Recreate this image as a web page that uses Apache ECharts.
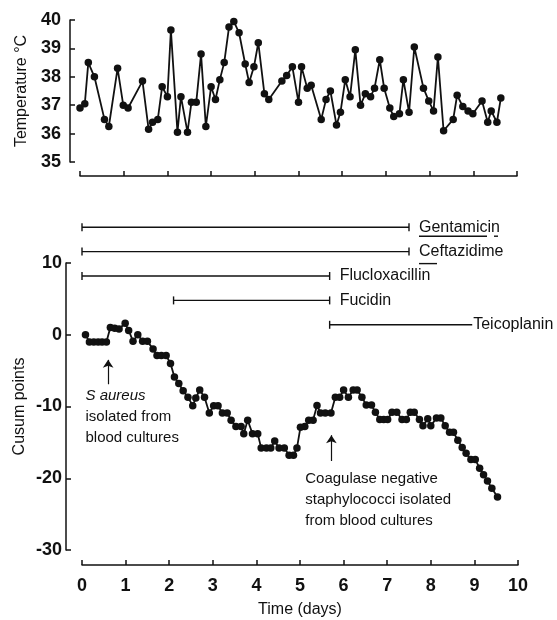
<!DOCTYPE html>
<html>
<head>
<meta charset="utf-8">
<script src="https://cdn.jsdelivr.net/npm/echarts@6/dist/echarts.min.js"></script>
<style>
  html, body { margin: 0; padding: 0; background: #fff; }
  #chart { width: 557px; height: 620px; }
</style>
</head>
<body>
<div id="chart"></div>
<script>
// temperature readings (days, deg C)
var tempDays = [0.0, 0.11, 0.19, 0.33, 0.56, 0.66, 0.86, 0.99, 1.10, 1.43,
  1.57, 1.66, 1.78, 1.88, 2.0, 2.08, 2.23, 2.31, 2.46, 2.55,
  2.66, 2.77, 2.88, 3.0, 3.1, 3.2, 3.3, 3.41, 3.52, 3.64,
  3.78, 3.87, 3.98, 4.08, 4.22, 4.32, 4.62, 4.73, 4.86, 5.0,
  5.07, 5.2, 5.29, 5.52, 5.63, 5.73, 5.87, 5.96, 6.07, 6.18,
  6.3, 6.42, 6.53, 6.65, 6.74, 6.86, 6.96, 7.09, 7.18, 7.31,
  7.4, 7.53, 7.65, 7.86, 7.98, 8.09, 8.19, 8.32, 8.54, 8.63,
  8.76, 8.88, 8.99, 9.2, 9.33, 9.41, 9.54, 9.63];
var temps = [36.9, 37.05, 38.5, 38.0, 36.5, 36.25, 38.3, 37.0, 36.9, 37.85,
  36.15, 36.4, 36.5, 37.65, 37.3, 39.65, 36.05, 37.3, 36.05, 37.1,
  37.1, 38.8, 36.25, 37.65, 37.2, 37.9, 38.5, 39.75, 39.95, 39.55,
  38.45, 37.8, 38.35, 39.2, 37.4, 37.2, 37.85, 38.05, 38.35, 37.1,
  38.35, 37.6, 37.7, 36.5, 37.2, 37.5, 36.3, 36.75, 37.9, 37.3,
  38.95, 37.0, 37.4, 37.3, 37.6, 38.6, 37.6, 36.9, 36.6, 36.7,
  37.9, 36.75, 39.05, 37.6, 37.15, 36.8, 38.7, 36.1, 36.5, 37.35,
  36.95, 36.8, 36.7, 37.15, 36.4, 36.8, 36.4, 37.25];

// cusum points
var cusumDays = [0.08, 0.17, 0.27, 0.37, 0.46, 0.56, 0.65, 0.75, 0.85, 0.99,
  1.07, 1.17, 1.28, 1.39, 1.5, 1.63, 1.72, 1.82, 1.93, 2.03,
  2.12, 2.22, 2.32, 2.43, 2.54, 2.61, 2.7, 2.81, 2.92, 3.02,
  3.12, 3.22, 3.33, 3.42, 3.53, 3.65, 3.71, 3.8, 3.91, 4.03,
  4.11, 4.23, 4.33, 4.42, 4.52, 4.64, 4.75, 4.85, 4.93, 5.01,
  5.11, 5.2, 5.3, 5.39, 5.47, 5.58, 5.71, 5.81, 5.91, 6.0,
  6.11, 6.22, 6.31, 6.42, 6.52, 6.64, 6.73, 6.83, 6.92, 7.01,
  7.11, 7.22, 7.34, 7.44, 7.53, 7.62, 7.74, 7.82, 7.93, 8.0,
  8.13, 8.23, 8.33, 8.43, 8.52, 8.62, 8.72, 8.81, 8.92, 9.02,
  9.12, 9.21, 9.3, 9.4, 9.53];
var cusumVals = [0, -1, -1, -1, -1, -1, 1, 0.9, 0.8, 1.6,
  0.6, -0.9, 0, -0.9, -0.9, -2, -2.9, -2.9, -2.9, -4,
  -5.9, -6.8, -7.8, -8.7, -9.9, -8.8, -7.7, -8.7, -10.9, -9.9,
  -9.9, -10.9, -10.9, -11.9, -12.8, -12.8, -13.8, -11.9, -13.8, -13.8,
  -15.8, -15.8, -15.8, -14.8, -15.8, -15.8, -16.8, -16.8, -15.8, -12.9,
  -12.8, -11.9, -11.9, -9.85, -10.9, -10.9, -10.9, -8.7, -8.7, -7.7,
  -8.7, -7.7, -7.7, -8.7, -9.8, -9.8, -10.8, -11.8, -11.8, -11.8,
  -10.8, -10.8, -11.8, -11.8, -10.8, -10.8, -11.8, -12.7, -11.7, -12.7,
  -11.6, -11.6, -12.7, -13.6, -13.6, -14.7, -15.7, -16.5, -17.4, -17.4,
  -18.6, -19.5, -20.4, -21.4, -22.6];

// antibiotic courses (days)
var drugNames = ['Gentamicin', 'Ceftazidime', 'Flucloxacillin', 'Fucidin', 'Teicoplanin'];
var drugStart = [0, 0, 0, 2.1, 5.68];
var drugStop = [7.5, 7.5, 5.68, 5.68, 8.95];
var drugOngoing = [0, 0, 0, 0, 1];

var xTicks = ['0', '1', '2', '3', '4', '5', '6', '7', '8', '9', '10'];

var chart = echarts.init(document.getElementById('chart'), null, { renderer: 'canvas' });

var font = 'Liberation Sans, Arial, sans-serif';
var ink = '#111';

function axisLine() {
  return { show: true, onZero: false, lineStyle: { color: ink, width: 1.5 } };
}
function ticks() {
  return { show: true, inside: true, length: 5, lineStyle: { color: ink, width: 1.5 } };
}
var tickLabel = { color: ink, fontFamily: font, fontWeight: 'bold', fontSize: 18 };

function zip(a, b) {
  return a.map(function (v, i) { return [v, b[i]]; });
}

var option = {
  animation: false,
  backgroundColor: '#fff',
  textStyle: { fontFamily: font, color: ink },
  grid: [
    { left: 80, right: 40, top: 20, height: 142, outerBoundsMode: 'none' },
    { left: 82, right: 39, top: 263, height: 287, outerBoundsMode: 'none' },
    { left: 82, right: 39, top: 215, height: 122, outerBoundsMode: 'none' }
  ],
  xAxis: [
    {
      gridIndex: 0, type: 'value', min: 0, max: 10, interval: 1, offset: 14,
      axisLine: axisLine(), axisTick: ticks(), axisLabel: { show: false },
      splitLine: { show: false }
    },
    {
      gridIndex: 1, type: 'value', min: 0, max: 10, interval: 1, offset: 15,
      axisLine: axisLine(), axisTick: ticks(),
      axisLabel: Object.assign({ margin: 12, formatter: function (v) { return xTicks[Math.round(v)]; } }, tickLabel),
      splitLine: { show: false },
      name: 'Time (days)', nameLocation: 'middle', nameGap: 37, nameMoveOverlap: false,
      nameTextStyle: { fontSize: 16, color: ink, fontFamily: font }
    },
    { gridIndex: 2, type: 'value', min: 0, max: 10, show: false }
  ],
  yAxis: [
    {
      gridIndex: 0, type: 'value', min: 35, max: 40, interval: 1, offset: 10,
      axisLine: axisLine(), axisTick: ticks(),
      axisLabel: Object.assign({ margin: 9 }, tickLabel),
      splitLine: { show: false },
      name: 'Temperature °C', nameLocation: 'middle', nameGap: 40, nameMoveOverlap: false,
      nameTextStyle: { fontSize: 16, color: ink, fontFamily: font }
    },
    {
      gridIndex: 1, type: 'value', min: -30, max: 10, interval: 10, offset: 16,
      axisLine: axisLine(), axisTick: ticks(),
      axisLabel: Object.assign({ margin: 4 }, tickLabel),
      splitLine: { show: false },
      name: 'Cusum points', nameLocation: 'middle', nameGap: 38, nameMoveOverlap: false,
      nameTextStyle: { fontSize: 16, color: ink, fontFamily: font }
    },
    { gridIndex: 2, type: 'category', data: drugNames, inverse: true, show: false }
  ],
  series: [
    {
      type: 'line', xAxisIndex: 0, yAxisIndex: 0,
      data: zip(tempDays, temps),
      symbol: 'circle', symbolSize: 7.5,
      lineStyle: { color: ink, width: 1.8 },
      itemStyle: { color: ink }
    },
    {
      type: 'line', xAxisIndex: 1, yAxisIndex: 1,
      data: zip(cusumDays, cusumVals),
      symbol: 'circle', symbolSize: 7.5,
      lineStyle: { color: ink, width: 1.8 },
      itemStyle: { color: ink },
      markLine: {
        silent: true,
        symbol: ['none', 'arrow'],
        symbolSize: 8,
        lineStyle: { color: ink, width: 1.2, type: 'solid' },
        label: { show: false },
        data: [
          [{ coord: [0.6, -6.9] }, { coord: [0.6, -3.5] }],
          [{ coord: [5.72, -17.6] }, { coord: [5.72, -14.0] }]
        ]
      },
      markPoint: {
        silent: true,
        symbol: 'circle', symbolSize: 0,
        label: {
          show: true, position: 'right', distance: 0, align: 'left',
          fontSize: 15, lineHeight: 21, color: ink, fontFamily: font,
          rich: { i: { fontStyle: 'italic', fontSize: 15, fontFamily: font, color: ink } }
        },
        data: [
          { coord: [0.08, -11.4], value: 0, label: { formatter: '{i|S aureus}\nisolated from\nblood cultures' } },
          { coord: [5.12, -22.95], value: 0, label: { formatter: 'Coagulase negative\nstaphylococci isolated\nfrom blood cultures' } }
        ]
      }
    },
    {
      type: 'custom', xAxisIndex: 2, yAxisIndex: 2,
      data: drugNames.map(function (n, i) { return [i, drugStart[i], drugStop[i], drugOngoing[i]]; }),
      renderItem: function (params, api) {
        var row = api.value(0);
        var a = api.coord([api.value(1), row]);
        var b = api.coord([api.value(2), row]);
        var ongoing = api.value(3) === 1;
        var st = { stroke: ink, lineWidth: 1.4 };
        var kids = [
          { type: 'line', shape: { x1: a[0], y1: a[1], x2: b[0], y2: b[1] }, style: st },
          { type: 'line', shape: { x1: a[0], y1: a[1] - 4, x2: a[0], y2: a[1] + 4 }, style: st }
        ];
        if (!ongoing) {
          kids.push({ type: 'line', shape: { x1: b[0], y1: b[1] - 4, x2: b[0], y2: b[1] + 4 }, style: st });
        }
        var tx = b[0] + (ongoing ? 1 : 10);
        kids.push({
          type: 'text',
          style: {
            x: tx, y: b[1], text: drugNames[row], fill: ink,
            font: '16px ' + font, textAlign: 'left', textVerticalAlign: 'middle'
          }
        });
        // underline marks as printed in the original
        if (row === 0) {
          kids.push({ type: 'line', shape: { x1: tx, y1: b[1] + 9, x2: tx + 68, y2: b[1] + 9 }, style: st });
          kids.push({ type: 'line', shape: { x1: tx + 75, y1: b[1] + 9, x2: tx + 79, y2: b[1] + 9 }, style: st });
        }
        if (row === 1) {
          kids.push({ type: 'line', shape: { x1: tx, y1: b[1] + 12, x2: tx + 18, y2: b[1] + 12 }, style: st });
        }
        return { type: 'group', children: kids };
      }
    }
  ]
};

chart.setOption(option);
</script>
</body>
</html>
